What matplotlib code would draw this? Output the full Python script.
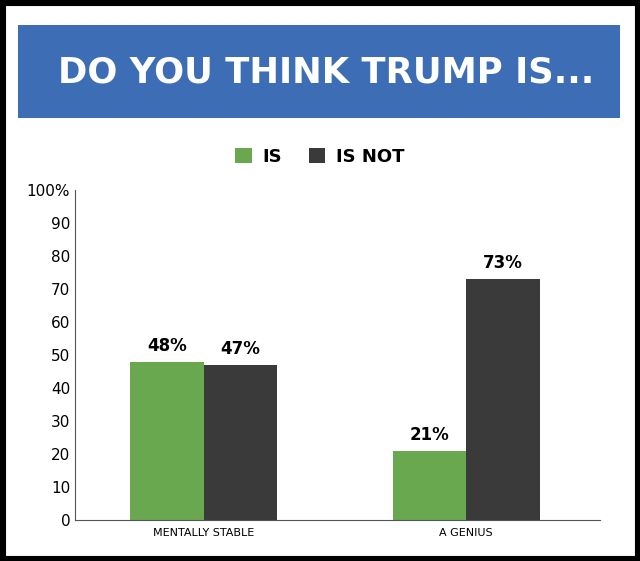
import matplotlib.pyplot as plt
from matplotlib.patches import Rectangle
import numpy as np

categories = ['MENTALLY STABLE', 'A GENIUS']
is_vals = [48, 21]
is_not_vals = [47, 73]
yticks = [0, 10, 20, 30, 40, 50, 60, 70, 80, 90, 100]
ytick_labels = ['0', '10', '20', '30', '40', '50', '60', '70', '80', '90', '100%']

green = '#6aa84f'
dark = '#3a3a3a'
blue = '#3d6db5'

fig = plt.figure(figsize=(6.4, 5.61), dpi=100)
fig.patches.append(Rectangle((0, 0), 1, 1, transform=fig.transFigure,
                             facecolor='white', edgecolor='black', linewidth=8, zorder=-10))
fig.patches.append(Rectangle((18/640, 1-118/561), 602/640, 93/561, transform=fig.transFigure,
                             facecolor=blue, edgecolor='none', zorder=-5))
fig.text(58/640, 1-72/561, 'DO YOU THINK TRUMP IS...', color='white', fontsize=25.5,
         fontweight='bold', va='center', ha='left')

ax = fig.add_axes([75/640, 1-520/561, 525/640, 330/561])
x = np.arange(len(categories))
w = 0.28
b1 = ax.bar(x - w/2, is_vals, w, color=green, label='IS')
b2 = ax.bar(x + w/2, is_not_vals, w, color=dark, label='IS NOT')
for bars, vals in ((b1, is_vals), (b2, is_not_vals)):
    for r, v in zip(bars, vals):
        ax.text(r.get_x() + r.get_width()/2, v + 2, f'{v}%', ha='center', va='bottom',
                fontsize=12, fontweight='bold')

ax.set_xlim(-0.49, 1.51)
ax.set_ylim(0, 100)
ax.set_yticks(yticks)
ax.set_yticklabels(ytick_labels, fontsize=11)
ax.set_xticks(x)
ax.set_xticklabels(categories, fontsize=8)
ax.tick_params(axis='x', length=0, pad=6)
ax.tick_params(axis='y', length=0)
for s in ('top', 'right'):
    ax.spines[s].set_visible(False)
ax.spines['left'].set_color('#555555')
ax.spines['bottom'].set_color('#555555')

fig.legend(handles=[b1, b2], loc='center', bbox_to_anchor=(320/640, 1-157/561), ncol=2,
           frameon=False, prop={'size': 13, 'weight': 'bold'}, handlelength=0.9,
           handleheight=0.9, columnspacing=1.5, handletextpad=0.6)

fig.savefig('out.png', dpi=100)
